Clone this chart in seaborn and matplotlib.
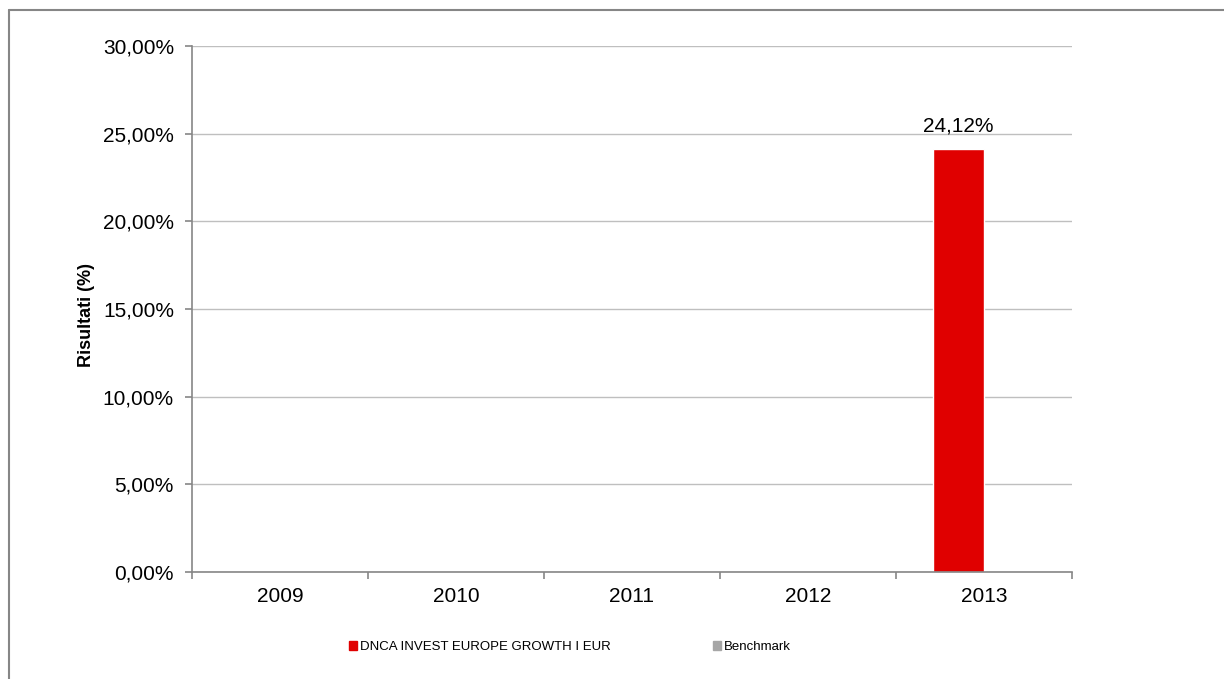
import numpy as np
import pandas as pd
import matplotlib
matplotlib.use('Agg')
import matplotlib.pyplot as plt
import seaborn as sb
from matplotlib.lines import Line2D
from matplotlib.patches import Patch

years = ['2009', '2010', '2011', '2012', '2013']
fund_name = 'DNCA INVEST EUROPE GROWTH I EUR'
bench_name = 'Benchmark'
fund_values = [np.nan, np.nan, np.nan, np.nan, 24.12]
bench_values = [np.nan, np.nan, np.nan, np.nan, np.nan]
yticks = [0, 5, 10, 15, 20, 25, 30]

sb.set_style('ticks')
plt.rcParams['font.family'] = ['Liberation Sans', 'DejaVu Sans']
plt.rcParams['text.color'] = 'black'
plt.rcParams['xtick.color'] = '#868686'
plt.rcParams['ytick.color'] = '#868686'
plt.rcParams['xtick.labelcolor'] = 'black'
plt.rcParams['ytick.labelcolor'] = 'black'

df = pd.DataFrame({
    'anno': years * 2,
    'serie': [fund_name] * len(years) + [bench_name] * len(years),
    'valore': fund_values + bench_values,
})

fig = plt.figure(figsize=(12.24, 6.79), dpi=100)
ax = fig.add_axes([192 / 1224, 1 - 572 / 679, 880 / 1224, 526 / 679])

colors = {fund_name: '#e00000', bench_name: '#a6a6a6'}
sb.barplot(data=df, x='anno', y='valore', hue='serie', order=years,
           hue_order=[fund_name, bench_name], palette=colors, saturation=1,
           width=0.58, dodge=True, ax=ax, legend=False, errorbar=None)

for cont in ax.containers:
    labels = ['' if np.isnan(v) else f'{v:.2f}%'.replace('.', ',') for v in cont.datavalues]
    ax.bar_label(cont, labels=labels, padding=10, fontsize=15, color='black')

ax.set_xlim(-0.5, len(years) - 0.5)
ax.set_ylim(0, 30)
ax.set_yticks(yticks)
ax.set_yticklabels([f'{t:.2f}%'.replace('.', ',') for t in yticks], fontsize=15)
ax.yaxis.grid(True, color='#bfbfbf', linewidth=1)
ax.set_axisbelow(True)

ax.set_xticks(range(len(years)))
ax.set_xticklabels(years, fontsize=15)
ax.set_xticks(np.arange(-0.5, len(years)), minor=True)
ax.tick_params(axis='x', which='major', length=0, pad=11)
ax.tick_params(axis='x', which='minor', length=5, width=1.2, color='#868686', direction='out')
ax.tick_params(axis='y', length=5, width=1.2, color='#868686', direction='out', left=True, pad=8)

for s in ['top', 'right']:
    ax.spines[s].set_visible(False)
for s in ['left', 'bottom']:
    ax.spines[s].set_color('#868686')
    ax.spines[s].set_linewidth(1.2)

ax.set_xlabel('')
ax.set_ylabel('Risultati (%)', fontsize=13, fontweight='bold', labelpad=5.5, color='black')
ax.yaxis.label.set_y(0.489)

handles = [Patch(color=colors[fund_name], label=fund_name),
           Patch(color=colors[bench_name], label=bench_name)]
fig.legend(handles=handles, loc='center', bbox_to_anchor=(570 / 1224, 1 - 647 / 679),
           ncol=2, frameon=False, fontsize=9.5, handlelength=0.6, handleheight=0.6,
           handletextpad=0.2, columnspacing=7.8)

fig.add_artist(Line2D([9 / 1224, 1], [1 - 10 / 679, 1 - 10 / 679],
                      transform=fig.transFigure, color='#868686', linewidth=1.5))
fig.add_artist(Line2D([9 / 1224, 9 / 1224], [0, 1 - 10 / 679],
                      transform=fig.transFigure, color='#868686', linewidth=1.5))

fig.savefig('out.png', dpi=100)
